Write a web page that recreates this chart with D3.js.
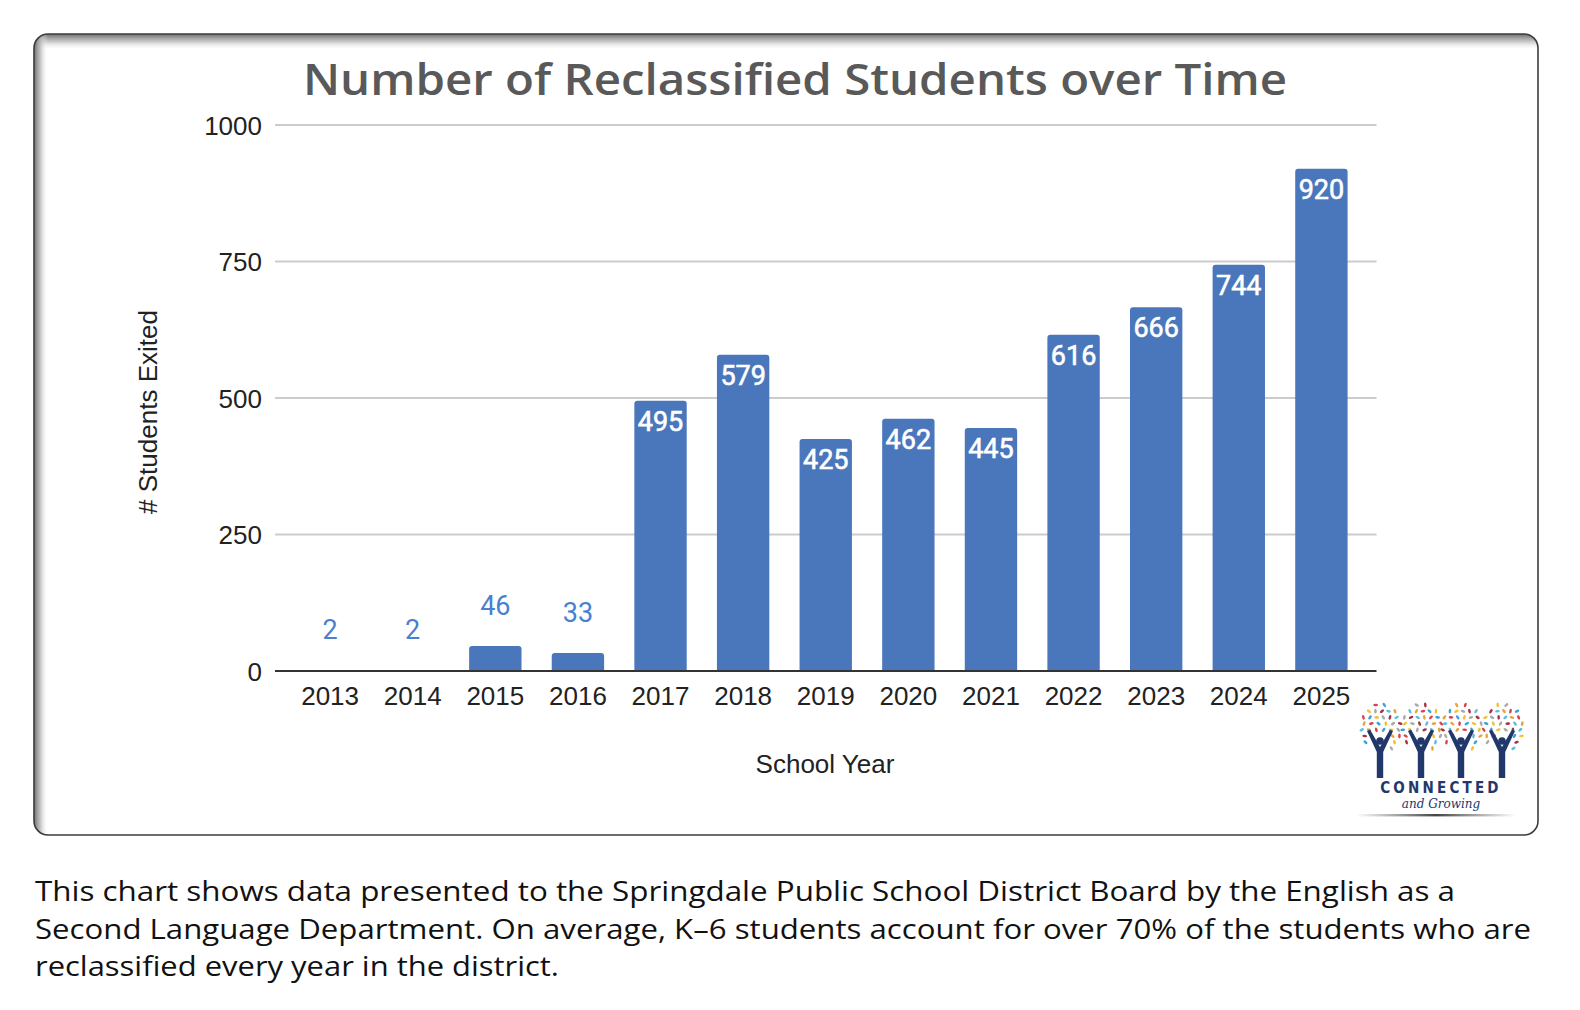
<!DOCTYPE html>
<html>
<head>
<meta charset="utf-8">
<script src="https://cdn.jsdelivr.net/npm/d3@7"></script>
<style>
  html, body { margin: 0; padding: 0; background: #ffffff; }
  svg { display: block; }
</style>
</head>
<body>
<svg id="chart" width="1580" height="1010"></svg>
<script>
// ---- Data ----
const years = ["2013","2014","2015","2016","2017","2018","2019","2020","2021","2022","2023","2024","2025"];
const studentsExited = [2, 2, 46, 33, 495, 579, 425, 462, 445, 616, 666, 744, 920];
const yTicks = [0, 250, 500, 750, 1000];
const chartTitle = "Number of Reclassified Students over Time";
const yAxisTitle = "# Students Exited";
const xAxisTitle = "School Year";
const captionLines = [
  "This chart shows data presented to the Springdale Public School District Board by the English as a",
  "Second Language Department. On average, K\u20136 students account for over 70% of the students who are",
  "reclassified every year in the district."
];

const svg = d3.select("#chart");
const defs = svg.append("defs");

// ---- Frame with inner shadow ----
const frame = {x: 34, y: 34, w: 1504, h: 801, r: 14};
const clip = defs.append("clipPath").attr("id", "frameClip");
clip.append("rect").attr("x", frame.x).attr("y", frame.y).attr("width", frame.w).attr("height", frame.h).attr("rx", frame.r);

function shadowGrad(id, horizontal) {
  const g = defs.append("linearGradient").attr("id", id)
    .attr("x1", 0).attr("y1", 0).attr("x2", horizontal ? 1 : 0).attr("y2", horizontal ? 0 : 1);
  g.append("stop").attr("offset", "0%").attr("stop-color", "#6e6e6e").attr("stop-opacity", 1);
  g.append("stop").attr("offset", "45%").attr("stop-color", "#b5b5b5").attr("stop-opacity", 0.8);
  g.append("stop").attr("offset", "100%").attr("stop-color", "#ffffff").attr("stop-opacity", 0);
}
shadowGrad("shTop", false);
shadowGrad("shLeft", true);

svg.append("rect").attr("x", frame.x).attr("y", frame.y).attr("width", frame.w).attr("height", frame.h)
  .attr("rx", frame.r).attr("fill", "#ffffff");
const shadowG = svg.append("g").attr("clip-path", "url(#frameClip)");
shadowG.append("rect").attr("x", frame.x).attr("y", frame.y).attr("width", frame.w).attr("height", 16).attr("fill", "url(#shTop)");
shadowG.append("rect").attr("x", frame.x).attr("y", frame.y).attr("width", 14).attr("height", frame.h).attr("fill", "url(#shLeft)");
svg.append("rect").attr("x", frame.x).attr("y", frame.y).attr("width", frame.w).attr("height", frame.h)
  .attr("rx", frame.r).attr("fill", "none").attr("stroke", "#3c3c3c").attr("stroke-width", 1.6);

// ---- Scales ----
const plotLeft = 275, plotRight = 1376.5;
const y = d3.scaleLinear().domain([0, 1000]).range([671, 125]);
const x = d3.scaleBand().domain(years).range([plotLeft, plotRight]).paddingInner(0.366).paddingOuter(0.35);

// ---- Gridlines ----
svg.append("g").selectAll("line").data(yTicks.filter(d => d !== 0)).join("line")
  .attr("x1", plotLeft).attr("x2", plotRight)
  .attr("y1", d => y(d)).attr("y2", d => y(d))
  .attr("stroke", "#cccccc").attr("stroke-width", 2);

// ---- Y axis tick labels via d3 axis ----
const axisFont = "'Liberation Sans', Arial, sans-serif";
const yAxis = d3.axisLeft(y).tickValues(yTicks).tickSize(0).tickPadding(0).tickFormat(d3.format("d"));
const yAxisG = svg.append("g").attr("transform", `translate(${plotLeft - 13},0)`).call(yAxis);
yAxisG.select(".domain").remove();
yAxisG.selectAll("text").attr("font-family", axisFont)
  .attr("font-size", 26).attr("fill", "#222222").attr("dy", "0.35em");

// ---- Bars ----
const barColor = "#4a77bc";
function topRoundedBar(x0, y0, w, h, r) {
  r = Math.min(r, h, w / 2);
  if (h <= 0) return "";
  return `M${x0},${y0 + h} L${x0},${y0 + r} Q${x0},${y0} ${x0 + r},${y0} L${x0 + w - r},${y0} Q${x0 + w},${y0} ${x0 + w},${y0 + r} L${x0 + w},${y0 + h} Z`;
}
const data = years.map((yr, i) => ({year: yr, value: studentsExited[i]}));
svg.append("g").selectAll("path").data(data).join("path")
  .attr("d", d => topRoundedBar(x(d.year), y(d.value), x.bandwidth(), y(0) - y(d.value), 3))
  .attr("fill", barColor);

// ---- Baseline ----
svg.append("line").attr("x1", plotLeft).attr("x2", plotRight).attr("y1", y(0)).attr("y2", y(0))
  .attr("stroke", "#333333").attr("stroke-width", 2);

// ---- Value labels ----
const insideThreshold = 100;
svg.append("g").selectAll("text").data(data).join("text")
  .attr("x", d => x(d.year) + x.bandwidth() / 2)
  .attr("y", d => d.value >= insideThreshold ? y(d.value) + 30 : y(d.value) - 31)
  .attr("text-anchor", "middle")
  .attr("font-family", "Roboto, 'Noto Sans', sans-serif")
  .attr("font-weight", 400)
  .attr("font-size", 27)
  .attr("fill", d => d.value >= insideThreshold ? "#ffffff" : "#4a7fd1")
  .attr("stroke", d => d.value >= insideThreshold ? "#ffffff" : "none")
  .attr("stroke-width", 0.6)
  .text(d => d.value);

// ---- X axis labels via d3 axis ----
const xAxis = d3.axisBottom(x).tickSize(0).tickPadding(0);
const xAxisG = svg.append("g").attr("transform", `translate(0,${y(0)})`).call(xAxis);
xAxisG.select(".domain").remove();
xAxisG.selectAll("text").attr("font-family", axisFont)
  .attr("font-size", 26).attr("fill", "#222222").attr("dy", 0).attr("y", 34);

// ---- Titles ----
svg.append("text").attr("x", 795).attr("y", 95).attr("text-anchor", "middle")
  .attr("font-family", "'Open Sans', 'Noto Sans', sans-serif").attr("font-weight", 600)
  .attr("font-size", 43).attr("fill", "#595959")
  .attr("textLength", 984).attr("lengthAdjust", "spacingAndGlyphs")
  .text(chartTitle);

svg.append("text").attr("transform", "translate(157,412) rotate(-90)").attr("text-anchor", "middle")
  .attr("font-family", axisFont).attr("font-size", 26).attr("fill", "#222222")
  .text(yAxisTitle);

svg.append("text").attr("x", 825).attr("y", 773).attr("text-anchor", "middle")
  .attr("font-family", axisFont).attr("font-size", 26).attr("fill", "#222222")
  .text(xAxisTitle);

// ---- Caption ----
const captionWidths = [1420, 1496, 524];
svg.append("g").selectAll("text").data(captionLines).join("text")
  .attr("x", 35).attr("y", (d, i) => 901 + i * 37.5)
  .attr("font-family", "'Open Sans', 'Noto Sans', sans-serif").attr("font-size", 27).attr("fill", "#111111")
  .attr("textLength", (d, i) => captionWidths[i]).attr("lengthAdjust", "spacingAndGlyphs")
  .text(d => d);

// ---- Logo (decorative) ----
const logo = svg.append("g").attr("transform", "translate(1352,700)");
const navy = "#22386b";
const leafColors = ["#d9434f", "#3aa0d8", "#f2c12e", "#a9a9a9", "#a33345", "#5bbde0", "#e6a23c"];
const treeXs = [28, 69, 109, 150];
treeXs.forEach((tx, ti) => {
  let k = ti * 3;
  for (let row = 0; row < 8; row++) {
    const ly = 5 + row * 6.2;
    const dy = (ly - 28) / 25;
    const half = 22 * Math.sqrt(Math.max(0, 1 - dy * dy));
    const n = Math.max(1, Math.round(half * 2 / 7));
    for (let j = 0; j < n; j++) {
      const lx = tx - half + (j + 0.5 + (row % 2) * 0.3) * (2 * half / n);
      if (row >= 5 && Math.abs(lx - tx) < 8) continue;
      logo.append("ellipse").attr("cx", lx).attr("cy", ly).attr("rx", 2.4).attr("ry", 1.3)
        .attr("transform", `rotate(${(j * 53 + row * 37 + ti * 29) % 180},${lx},${ly})`)
        .attr("fill", leafColors[k++ % leafColors.length]);
    }
  }
  logo.append("path")
    .attr("d", `M${tx - 3.2},78 L${tx - 3.2},52 L${tx - 13},31 L${tx - 10},29.5 L${tx},47 L${tx + 10},29.5 L${tx + 13},31 L${tx + 3.2},52 L${tx + 3.2},78 Z`)
    .attr("fill", navy);
  logo.append("circle").attr("cx", tx).attr("cy", 41).attr("r", 3.8).attr("fill", navy);
});
logo.append("text").attr("x", 89).attr("y", 93).attr("text-anchor", "middle")
  .attr("font-family", "'DejaVu Sans Condensed', 'DejaVu Sans', sans-serif").attr("font-weight", 700)
  .attr("font-size", 15).attr("letter-spacing", 3.2).attr("fill", navy).text("CONNECTED");
logo.append("text").attr("x", 89).attr("y", 108).attr("text-anchor", "middle")
  .attr("font-family", "'DejaVu Serif', serif").attr("font-style", "italic")
  .attr("font-size", 12).attr("fill", navy).text("and Growing");
const lg = defs.append("linearGradient").attr("id", "logoLine");
lg.append("stop").attr("offset", "0%").attr("stop-color", "#555").attr("stop-opacity", 0);
lg.append("stop").attr("offset", "50%").attr("stop-color", "#444").attr("stop-opacity", 1);
lg.append("stop").attr("offset", "100%").attr("stop-color", "#555").attr("stop-opacity", 0);
logo.append("rect").attr("x", 4).attr("y", 114).attr("width", 160).attr("height", 2.4).attr("fill", "url(#logoLine)");
</script>
</body>
</html>
